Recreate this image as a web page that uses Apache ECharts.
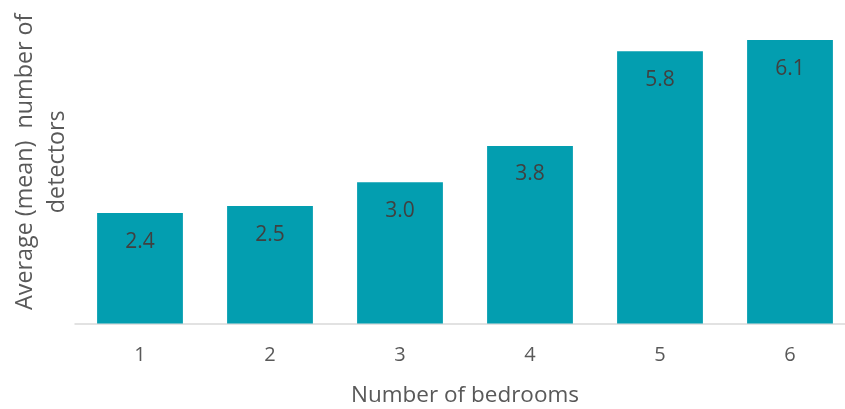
<!DOCTYPE html>
<html>
<head>
<meta charset="utf-8">
<script src="https://cdn.jsdelivr.net/npm/echarts@6/dist/echarts.min.js"></script>
<style>
html,body{margin:0;padding:0;background:#fff;}
#chart{width:845px;height:409px;}
</style>
</head>
<body>
<div id="chart"></div>
<script>
const categories = ['1', '2', '3', '4', '5', '6'];
const detectors = [2.37, 2.52, 3.03, 3.81, 5.84, 6.08];
const xTitle = 'Number of bedrooms';
const yTitle = 'Average (mean)  number of\ndetectors';

const chart = echarts.init(document.getElementById('chart'), null, {renderer: 'canvas'});
const font = '"Open Sans", sans-serif';
chart.setOption({
  animation: false,
  grid: {left: 75, right: -10, top: 0, bottom: 85.5, containLabel: false, outerBoundsMode: 'none'},
  xAxis: {
    type: 'category',
    data: categories,
    boundaryGap: true,
    axisLine: {show: true, lineStyle: {color: '#D9D9D9', width: 1.5}},
    axisTick: {show: false},
    axisLabel: {color: '#595959', fontSize: 20, fontFamily: font, margin: 22},
    name: xTitle,
    nameLocation: 'middle',
    nameGap: 61,
    nameTextStyle: {color: '#595959', fontSize: 22.5, fontFamily: font}
  },
  yAxis: {
    type: 'value',
    min: 0,
    max: 6.94,
    axisLine: {show: false},
    axisTick: {show: false},
    axisLabel: {show: false},
    splitLine: {show: false},
    name: yTitle,
    nameLocation: 'middle',
    nameGap: 2,
    nameTextStyle: {color: '#595959', fontSize: 23.3, fontFamily: font, lineHeight: 32}
  },
  series: [{
    type: 'bar',
    data: detectors,
    barWidth: '66%',
    itemStyle: {color: '#039EB0'},
    label: {
      show: true,
      position: 'insideTop',
      distance: 18,
      color: '#404040',
      fontSize: 21,
      fontFamily: font,
      formatter: p => p.value.toFixed(1)
    }
  }]
});
</script>
</body>
</html>
